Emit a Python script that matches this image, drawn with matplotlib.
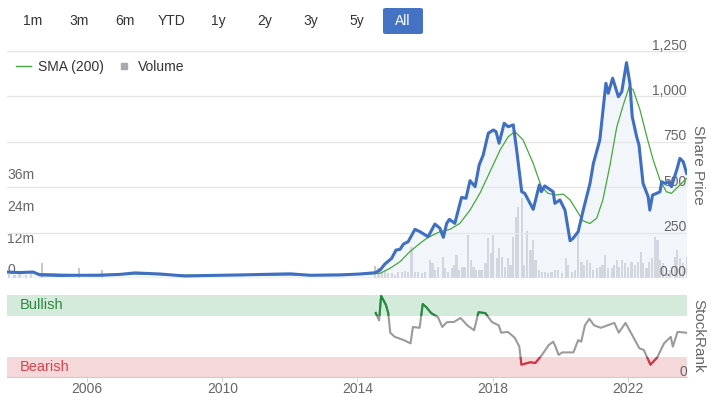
import matplotlib
matplotlib.use("Agg")
import matplotlib.pyplot as plt
import matplotlib.transforms as mtransforms
from matplotlib.lines import Line2D
from matplotlib.patches import Rectangle, FancyBboxPatch

plt.rcParams['font.family'] = ['Liberation Sans', 'DejaVu Sans']

# share price (decimal year, price)
price_years = [2003.63, 2004.02, 2004.40, 2004.61, 2005.20, 2005.79, 2006.38, 2006.98, 2007.42,
               2008.16, 2008.90, 2009.34, 2010.53, 2012.00, 2012.60, 2013.48, 2014.07, 2014.52,
               2014.67, 2014.81, 2015.01, 2015.14, 2015.26, 2015.36, 2015.50, 2015.70, 2015.85,
               2016.09, 2016.29, 2016.44, 2016.54, 2016.64, 2016.72, 2016.88, 2017.08, 2017.21,
               2017.33, 2017.48, 2017.60, 2017.72, 2017.87, 2018.02, 2018.10, 2018.19, 2018.34,
               2018.46, 2018.61, 2018.71, 2018.86, 2018.95, 2019.20, 2019.38, 2019.44, 2019.54,
               2019.79, 2019.84, 2019.99, 2020.14, 2020.29, 2020.38, 2020.53, 2020.68, 2020.88,
               2020.98, 2021.17, 2021.35, 2021.42, 2021.55, 2021.72, 2021.82, 2021.96, 2022.06,
               2022.13, 2022.26, 2022.33, 2022.45, 2022.60, 2022.65, 2022.73, 2022.85, 2022.95,
               2023.00, 2023.10, 2023.19, 2023.29, 2023.46, 2023.54, 2023.64, 2023.74]
price = [33, 30, 33, 17, 14, 15, 15, 20, 28,
         22, 11, 13, 17, 23, 15, 17, 22, 29,
         44, 77, 108, 154, 158, 187, 200, 268, 255,
         227, 297, 274, 224, 301, 323, 301, 444, 439,
         536, 503, 622, 677, 797, 815, 806, 742, 852,
         833, 843, 705, 475, 466, 378, 512, 475, 507,
         475, 411, 430, 374, 205, 219, 255, 374, 521,
         631, 760, 1072, 1017, 1100, 998, 1026, 1186, 1072,
         888, 778, 732, 521, 448, 374, 457, 466, 475,
         530, 521, 530, 503, 604, 659, 640, 576]

# 200-day simple moving average
sma_years = [2004.61, 2005.79, 2007.42, 2008.90, 2010.53, 2012.30, 2014.07, 2014.67, 2014.96,
             2015.26, 2015.55, 2015.85, 2016.09, 2016.44, 2016.74, 2017.03, 2017.33, 2017.62,
             2017.92, 2018.22, 2018.46, 2018.66, 2018.90, 2019.20, 2019.44, 2019.64, 2019.89,
             2020.09, 2020.29, 2020.48, 2020.67, 2020.88, 2021.08, 2021.26, 2021.47, 2021.67,
             2021.86, 2022.04, 2022.16, 2022.36, 2022.56, 2022.75, 2022.95, 2023.14, 2023.29,
             2023.49, 2023.74]
sma = [24, 18, 22, 16, 14, 18, 20, 26, 53,
       90, 145, 191, 224, 255, 268, 301, 374, 466,
       585, 705, 778, 806, 760, 631, 503, 466, 457,
       462, 430, 374, 315, 300, 330, 430, 620, 830,
       950, 1053, 1035, 925, 778, 650, 540, 475, 466,
       503, 549]

# volume bars (decimal year, millions)
vol_years = [2003.70, 2003.85, 2004.00, 2004.20, 2004.35, 2004.67, 2005.76, 2006.44,
             2014.52, 2014.62, 2014.72, 2014.81, 2014.91, 2015.01, 2015.11, 2015.21, 2015.31,
             2015.41, 2015.50, 2015.60, 2015.70, 2015.80, 2015.90, 2016.00, 2016.15, 2016.22,
             2016.29, 2016.39, 2016.52, 2016.59, 2016.69, 2016.79, 2016.85, 2016.93, 2017.01,
             2017.11, 2017.18, 2017.28, 2017.36, 2017.43, 2017.51, 2017.60, 2017.67, 2017.79,
             2017.87, 2017.95, 2018.02, 2018.12, 2018.19, 2018.27, 2018.36, 2018.46, 2018.53,
             2018.61, 2018.68, 2018.76, 2018.86, 2018.93, 2019.02, 2019.12, 2019.20, 2019.27,
             2019.37, 2019.45, 2019.55, 2019.64, 2019.74, 2019.84, 2019.94, 2020.04, 2020.17,
             2020.24, 2020.34, 2020.43, 2020.53, 2020.63, 2020.71, 2020.80, 2020.88, 2020.97,
             2021.08, 2021.17, 2021.25, 2021.32, 2021.42, 2021.52, 2021.60, 2021.67, 2021.74,
             2021.82, 2021.91, 2022.01, 2022.11, 2022.21, 2022.31, 2022.39, 2022.45, 2022.55,
             2022.63, 2022.72, 2022.80, 2022.88, 2022.95, 2023.05, 2023.15, 2023.24, 2023.39,
             2023.46, 2023.54, 2023.64, 2023.74]
volume = [1.5, 1.2, 1.8, 1.0, 2.0, 5.8, 3.9, 3.0,
          4.6, 3.7, 2.4, 3.0, 1.9, 1.9, 1.1, 2.2, 2.2,
          2.8, 2.4, 11.9, 2.2, 2.4, 1.8, 2.4, 6.9, 5.6,
          3.0, 4.3, 8.1, 3.7, 2.4, 3.7, 5.0, 8.8, 3.0,
          4.3, 4.3, 16.4, 6.9, 4.3, 3.0, 3.0, 3.0, 5.6,
          15.1, 9.4, 16.4, 7.5, 11.3, 8.1, 4.3, 7.5, 5.0,
          15.7, 23.0, 27.0, 30.4, 5.0, 17.6, 10.7, 14.5, 6.9,
          3.0, 2.4, 2.4, 1.8, 2.4, 3.0, 3.0, 1.8, 7.5,
          5.0, 2.4, 3.0, 17.0, 6.2, 5.0, 6.9, 5.6, 3.0,
          3.7, 4.3, 5.0, 8.8, 3.7, 3.7, 5.0, 6.9, 4.3,
          6.9, 5.6, 4.3, 6.2, 5.0, 6.2, 10.0, 5.6, 3.7,
          6.2, 7.5, 15.7, 14.5, 6.9, 5.6, 1.8, 3.0, 8.1,
          10.7, 7.5, 5.6, 8.1]

# StockRank (0-100)
rank_years = [2014.54, 2014.64, 2014.70, 2014.84, 2014.91, 2014.97, 2015.10, 2015.37, 2015.57,
              2015.64, 2015.84, 2015.93, 2016.04, 2016.18, 2016.38, 2016.51, 2016.65, 2016.85,
              2017.05, 2017.25, 2017.45, 2017.58, 2017.78, 2017.98, 2018.18, 2018.25, 2018.45,
              2018.65, 2018.79, 2018.85, 2019.12, 2019.26, 2019.46, 2019.66, 2019.79, 2019.86,
              2019.95, 2020.06, 2020.39, 2020.53, 2020.62, 2020.73, 2020.86, 2021.00, 2021.20,
              2021.40, 2021.60, 2021.73, 2021.93, 2022.13, 2022.34, 2022.47, 2022.67, 2022.87,
              2023.07, 2023.27, 2023.33, 2023.47, 2023.73]
rank = [78, 69, 99, 88, 78, 54, 49, 45, 41,
        61, 60, 89, 85, 78, 73, 61, 67, 67,
        72, 63, 57, 79, 78, 67, 63, 54, 55,
        48, 37, 15, 18, 17, 27, 39, 43, 37,
        27, 30, 30, 45, 43, 63, 71, 63, 60,
        63, 66, 54, 66, 51, 35, 33, 15, 24,
        41, 49, 37, 55, 54]

price_ticks = [0, 250, 500, 750, 1000, 1250]
price_tick_labels = ['0.00', '250', '500', '750', '1,000', '1,250']
vol_ticks = [0, 12, 24, 36]
vol_tick_labels = ['0', '12m', '24m', '36m']
year_ticks = [2006, 2010, 2014, 2018, 2022]
buttons = ['1m', '3m', '6m', 'YTD', '1y', '2y', '3y', '5y', 'All']
button_x = [33, 79, 125, 172, 218, 265, 311, 357, 403]

W, H = 711, 397
PRICE_C = '#3e6fc0'
SMA_C = '#45a83c'
VOL_C = '#c6c7cc'
GRID_C = '#e6e6e6'
LABEL_C = '#666666'


def px_box(x0, y0, x1, y1):
    return [x0 / W, 1 - y1 / H, (x1 - x0) / W, (y1 - y0) / H]


def lift_labels(labels, fig, ha, dy_px):
    off = mtransforms.ScaledTranslation(0, dy_px / fig.dpi, fig.dpi_scale_trans)
    for lbl in labels:
        lbl.set_horizontalalignment(ha)
        lbl.set_transform(lbl.get_transform() + off)


fig = plt.figure(figsize=(W / 100, H / 100), dpi=100)

ax_price = fig.add_axes(px_box(7, 51, 687, 278))
ax_vol = ax_price.twinx()
ax_price.set_zorder(2)
ax_vol.set_zorder(1)
ax_price.patch.set_visible(False)
ax_sr = fig.add_axes(px_box(7, 295, 687, 377), sharex=ax_price)

# volume
ax_vol.bar(vol_years, volume, width=0.065, color=VOL_C, linewidth=0)
ax_vol.set_ylim(0, 85.9)
ax_vol.yaxis.tick_left()
ax_vol.set_yticks(vol_ticks)
ax_vol.set_yticklabels(vol_tick_labels)
ax_vol.tick_params(axis='y', length=0, pad=0, labelsize=10, labelcolor=LABEL_C)
lift_labels(ax_vol.get_yticklabels(), fig, 'left', 9)

# price + SMA
ax_price.fill_between(price_years, price, 0, color='#e4e9f5', alpha=0.45, linewidth=0)
ax_price.plot(sma_years, sma, color=SMA_C, lw=0.9)
ax_price.plot(price_years, price, color=PRICE_C, lw=2.2, solid_joinstyle='round')
ax_price.set_ylim(0, 1250)
ax_price.set_xlim(2003.63, 2023.75)
ax_price.yaxis.tick_right()
ax_price.set_yticks(price_ticks)
ax_price.set_yticklabels(price_tick_labels)
ax_price.grid(axis='y', color=GRID_C, lw=1)
ax_price.tick_params(axis='y', length=0, pad=0, labelsize=10, labelcolor=LABEL_C)
lift_labels(ax_price.get_yticklabels(), fig, 'right', 7)

for a in (ax_price, ax_vol):
    for s in a.spines.values():
        s.set_visible(False)
    a.tick_params(axis='x', length=0, labelbottom=False)

# StockRank panel
ax_sr.set_ylim(0, 100)
ax_sr.axhspan(75, 100, color='#d4eadb', lw=0)
ax_sr.axhspan(0, 25, color='#f5d8da', lw=0)
bt = mtransforms.blended_transform_factory(ax_sr.transAxes, ax_sr.transData)
ax_sr.plot(rank_years, rank, color='#9b9b9b', lw=1.5)
up, = ax_sr.plot(rank_years, rank, color='#1f8b3b', lw=1.5)
up.set_clip_path(Rectangle((0, 75), 1, 40, transform=bt))
down, = ax_sr.plot(rank_years, rank, color='#d6333f', lw=1.5)
down.set_clip_path(Rectangle((0, -10), 1, 35, transform=bt))
ax_sr.text(0.019, 87.5, 'Bullish', transform=bt, color='#2d8a3e', fontsize=10.5, va='center')
ax_sr.text(0.019, 12.5, 'Bearish', transform=bt, color='#d9434f', fontsize=10.5, va='center')

ax_sr.yaxis.tick_right()
ax_sr.set_yticks([0])
ax_sr.set_yticklabels(['0'])
ax_sr.tick_params(axis='y', length=0, pad=0, labelsize=10, labelcolor=LABEL_C)
lift_labels(ax_sr.get_yticklabels(), fig, 'right', 7)

ax_sr.set_xticks(year_ticks)
ax_sr.set_xticklabels([str(y) for y in year_ticks])
ax_sr.tick_params(axis='x', length=3.5, width=0.8, color='#ccd6eb', pad=0,
                  labelsize=10, labelcolor=LABEL_C)
for name, s in ax_sr.spines.items():
    s.set_visible(name == 'bottom')
ax_sr.spines['bottom'].set_color('#cccccc')
ax_sr.patch.set_visible(False)

# axis titles
fig.text(698 / W, 1 - 165 / H, 'Share Price', rotation=-90, ha='center', va='center',
         fontsize=11, color=LABEL_C)
fig.text(698 / W, 1 - 336 / H, 'StockRank', rotation=-90, ha='center', va='center',
         fontsize=11, color=LABEL_C)

# legend
handles = [Line2D([], [], color=SMA_C, lw=1),
           Line2D([], [], marker='s', ls='none', color='#a9aab0', markersize=5)]
fig.legend(handles, ['SMA (200)', 'Volume'], loc='center left',
           bbox_to_anchor=(3 / W, 1 - 67 / H), ncol=2, frameon=False, fontsize=10,
           handlelength=1.1, handletextpad=0.5, columnspacing=0.9, labelcolor='#333333')

# range selector buttons
fig.add_artist(FancyBboxPatch((383 / W, 1 - 34 / H), 40 / W, 26 / H,
                              boxstyle='round,pad=0,rounding_size=0.004',
                              transform=fig.transFigure, fc='#4573c4', ec='none'))
for label, bx in zip(buttons, button_x):
    fig.text(bx / W, 1 - 21 / H, label, ha='center', va='center', fontsize=10,
             color='white' if label == 'All' else '#333333')

fig.savefig('out.png', dpi=100)
